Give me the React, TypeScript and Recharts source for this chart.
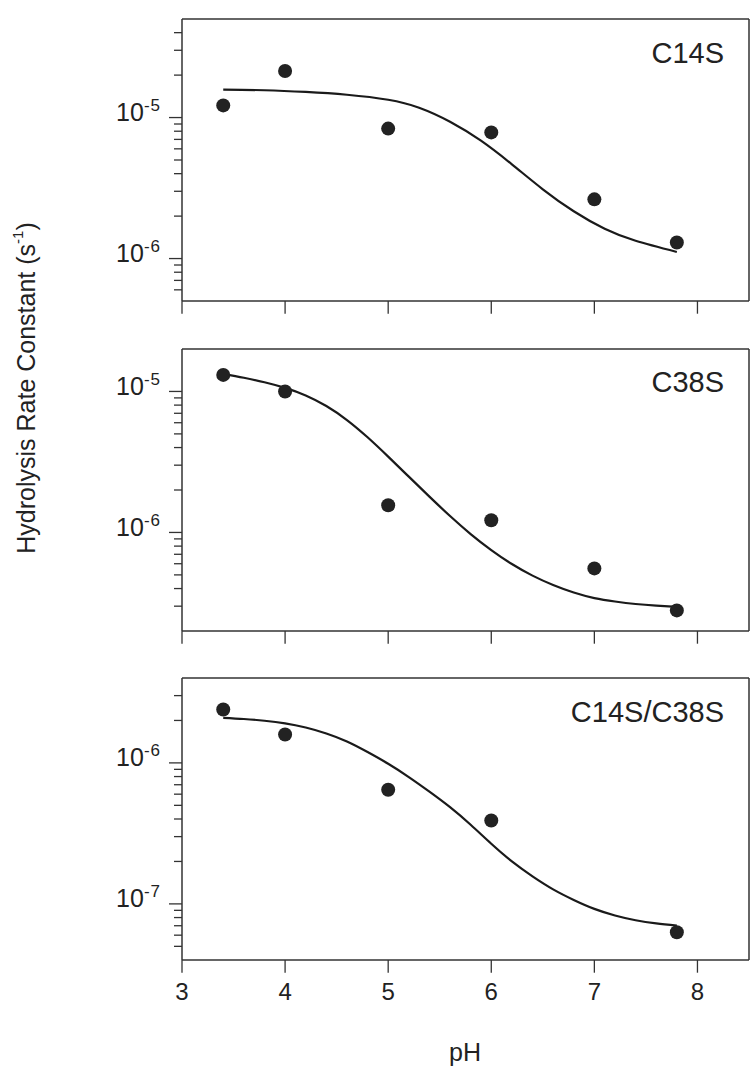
import React from 'react';
import { ComposedChart, Line, Scatter, XAxis, YAxis } from 'recharts';

// ---------- data ----------
const phTicks = [3, 4, 5, 6, 7, 8];

const c14sPH = [3.4, 4, 5, 6, 7, 7.8];
const c14sK = [1.22e-5, 2.14e-5, 8.35e-6, 7.85e-6, 2.63e-6, 1.3e-6];
const c14sFitPH = [3.4, 3.8, 4.2, 4.6, 5.0, 5.3, 5.6, 5.9, 6.2, 6.5, 6.8, 7.1, 7.4, 7.8];
const c14sFitK = [1.58e-5, 1.562e-5, 1.519e-5, 1.451e-5, 1.337e-5, 1.174e-5, 9.34e-6, 6.85e-6, 4.66e-6, 3.1e-6, 2.165e-6, 1.627e-6, 1.337e-6, 1.114e-6];

const c38sPH = [3.4, 4, 5, 6, 7, 7.8];
const c38sK = [1.31e-5, 1.0e-5, 1.56e-6, 1.22e-6, 5.56e-7, 2.8e-7];
const c38sFitPH = [3.4, 3.6, 3.8, 4.0, 4.2, 4.4, 4.6, 4.8, 5.0, 5.2, 5.4, 5.6, 5.8, 6.0, 6.2, 6.4, 6.6, 6.8, 7.0, 7.2, 7.4, 7.6, 7.8];
const c38sFitK = [1.328e-5, 1.251e-5, 1.162e-5, 1.06e-5, 9.37e-6, 7.88e-6, 6.27e-6, 4.73e-6, 3.45e-6, 2.487e-6, 1.794e-6, 1.307e-6, 9.74e-7, 7.5e-7, 5.97e-7, 4.94e-7, 4.24e-7, 3.75e-7, 3.425e-7, 3.236e-7, 3.107e-7, 3.027e-7, 2.97e-7];

const dblPH = [3.4, 4, 5, 6, 7.8];
const dblK = [2.39e-6, 1.59e-6, 6.45e-7, 3.9e-7, 6.3e-8];
const dblFitPH = [3.4, 3.6, 3.8, 4.0, 4.2, 4.4, 4.6, 4.8, 5.0, 5.2, 5.4, 5.6, 5.8, 6.0, 6.2, 6.4, 6.6, 6.8, 7.0, 7.2, 7.4, 7.6, 7.8];
const dblFitK = [2.089e-6, 2.048e-6, 1.991e-6, 1.908e-6, 1.781e-6, 1.615e-6, 1.417e-6, 1.193e-6, 9.85e-7, 7.93e-7, 6.25e-7, 4.85e-7, 3.64e-7, 2.67e-7, 2.001e-7, 1.568e-7, 1.268e-7, 1.067e-7, 9.22e-8, 8.28e-8, 7.66e-8, 7.27e-8, 7.01e-8];

const c14sDomain = [5e-7, 5e-5];
const c14sTicks = [6e-7, 7e-7, 8e-7, 9e-7, 1e-6, 2e-6, 3e-6, 4e-6, 5e-6, 6e-6, 7e-6, 8e-6, 9e-6, 1e-5, 2e-5, 3e-5, 4e-5];
const c38sDomain = [2e-7, 2e-5];
const c38sTicks = [3e-7, 4e-7, 5e-7, 6e-7, 7e-7, 8e-7, 9e-7, 1e-6, 2e-6, 3e-6, 4e-6, 5e-6, 6e-6, 7e-6, 8e-6, 9e-6, 1e-5];
const dblDomain = [4e-8, 4e-6];
const dblTicks = [5e-8, 6e-8, 7e-8, 8e-8, 9e-8, 1e-7, 2e-7, 3e-7, 4e-7, 5e-7, 6e-7, 7e-7, 8e-7, 9e-7, 1e-6, 2e-6, 3e-6];

const panelNames = ['C14S', 'C38S', 'C14S/C38S'];

// ---------- styles ----------
const FONT = '"Liberation Sans", Arial, Helvetica, sans-serif';
const INK = '#222';
const AXIS = '#333';

const zip = (xs: number[], ys: number[]) => xs.map((x, i) => ({ x, k: ys[i] }));

function isMajor(v: number) {
  const l = Math.log10(v);
  return Math.abs(l - Math.round(l)) < 1e-6;
}

function YTick(props: any) {
  const { x, y, payload } = props;
  const v = payload.value;
  const major = isMajor(v);
  const exp = Math.round(Math.log10(v));
  return (
    <g>
      <line x1={x - (major ? 13 : 8)} x2={x} y1={y} y2={y} stroke={AXIS} strokeWidth={1.3} />
      {major && (
        <text x={x - 21} y={y + 3.4} textAnchor="end" fontFamily={FONT} fill={INK}>
          <tspan fontSize={25}>10</tspan>
          <tspan fontSize={17} dy={-10} letterSpacing={1}>{String(exp)}</tspan>
        </text>
      )}
    </g>
  );
}

function makeXTick(showLabel: boolean) {
  return (props: any) => {
    const { x, y, payload } = props;
    return (
      <g>
        <line x1={x} x2={x} y1={y} y2={y + 12.7} stroke={AXIS} strokeWidth={1.3} />
        {showLabel && (
          <text x={x} y={y + 40} textAnchor="middle" fontFamily={FONT} fontSize={24} fill={INK}>
            {payload.value}
          </text>
        )}
      </g>
    );
  };
}

const dotShape = (p: any) => <circle cx={p.cx} cy={p.cy} r={7} fill="#222" />;

function Panel(props: {
  top: number;
  pts: { x: number; k: number }[];
  fit: { x: number; k: number }[];
  domain: number[];
  ticks: number[];
  showX: boolean;
}) {
  const xh = props.showX ? 100 : 20;
  const height = 18 + 1 + 282 + xh;
  return (
    <div style={{ position: 'absolute', left: 0, top: props.top, width: 750, height }}>
      <ComposedChart width={750} height={height} margin={{ top: 18, right: 0, bottom: 0, left: 0 }}>
        <XAxis
          dataKey="x"
          type="number"
          domain={[3, 8.5]}
          ticks={phTicks}
          interval={0}
          allowDataOverflow
          tickSize={0}
          tickMargin={0}
          tickLine={false}
          tick={makeXTick(props.showX)}
          axisLine={{ stroke: AXIS, strokeWidth: 1.5 }}
          height={xh}
        />
        <XAxis
          xAxisId="top"
          orientation="top"
          type="number"
          domain={[3, 8.5]}
          tick={false}
          tickLine={false}
          axisLine={{ stroke: AXIS, strokeWidth: 1.5 }}
          height={1}
        />
        <YAxis
          type="number"
          scale="log"
          domain={props.domain}
          ticks={props.ticks}
          interval={0}
          allowDataOverflow
          tickSize={0}
          tickMargin={0}
          tickLine={false}
          tick={YTick}
          axisLine={{ stroke: AXIS, strokeWidth: 1.5 }}
          width={182}
        />
        <YAxis
          yAxisId="right"
          orientation="right"
          type="number"
          domain={[0, 1]}
          tick={false}
          tickLine={false}
          axisLine={{ stroke: AXIS, strokeWidth: 1.5 }}
          width={1}
        />
        <Line
          data={props.fit}
          dataKey="k"
          type="natural"
          dot={false}
          stroke="#1a1a1a"
          strokeWidth={2.2}
          isAnimationActive={false}
        />
        <Scatter data={props.pts} dataKey="k" shape={dotShape} isAnimationActive={false} />
      </ComposedChart>
    </div>
  );
}

export default function App() {
  return (
    <div style={{ position: 'absolute', left: 0, top: 0, width: 750, height: 1068, overflow: 'hidden', background: '#fff' }}>
      <Panel top={0} pts={zip(c14sPH, c14sK)} fit={zip(c14sFitPH, c14sFitK)} domain={c14sDomain} ticks={c14sTicks} showX={false} />
      <Panel top={330} pts={zip(c38sPH, c38sK)} fit={zip(c38sFitPH, c38sFitK)} domain={c38sDomain} ticks={c38sTicks} showX={false} />
      <Panel top={659} pts={zip(dblPH, dblK)} fit={zip(dblFitPH, dblFitK)} domain={dblDomain} ticks={dblTicks} showX={true} />
      <svg
        width={750}
        height={1068}
        style={{ position: 'absolute', left: 0, top: 0, pointerEvents: 'none' }}
      >
        <text x={724} y={63} textAnchor="end" fontFamily={FONT} fontSize={29} fill={INK}>{panelNames[0]}</text>
        <text x={724} y={392} textAnchor="end" fontFamily={FONT} fontSize={29} fill={INK}>{panelNames[1]}</text>
        <text x={724} y={722} textAnchor="end" fontFamily={FONT} fontSize={29} fill={INK}>{panelNames[2]}</text>
        <text x={465} y={1061} textAnchor="middle" fontFamily={FONT} fontSize={25} fill={INK}>pH</text>
        <text
          x={35}
          y={388}
          transform="rotate(-90, 35, 388)"
          textAnchor="middle"
          fontFamily={FONT}
          fontSize={25}
          fill={INK}
        >
          Hydrolysis Rate Constant (s<tspan fontSize={15} dy={-12}>-1</tspan><tspan dy={12}>)</tspan>
        </text>
      </svg>
    </div>
  );
}
